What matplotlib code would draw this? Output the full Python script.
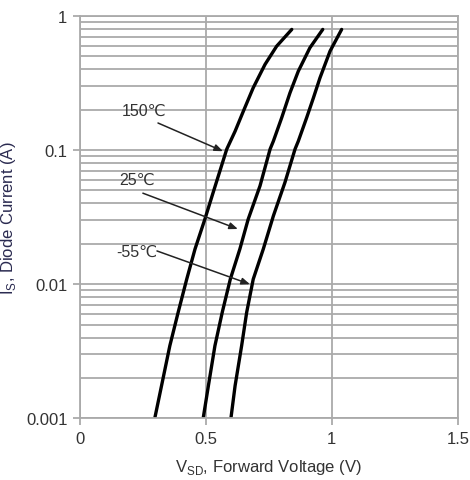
import matplotlib
matplotlib.use("Agg")
import matplotlib.pyplot as plt
from matplotlib.ticker import LogLocator, NullFormatter

plt.rcParams['font.family'] = ['Liberation Sans', 'DejaVu Sans']

# curves: forward voltage (V) vs diode current (A)
v_150 = [0.298, 0.324, 0.357, 0.390, 0.424, 0.457, 0.496, 0.529, 0.583,
         0.616, 0.649, 0.688, 0.735, 0.781, 0.841]
i_150 = [0.00102, 0.00175, 0.00348, 0.00617, 0.0109, 0.0183, 0.0305, 0.0483, 0.1016,
         0.138, 0.195, 0.291, 0.435, 0.594, 0.792]

v_25 = [0.490, 0.510, 0.536, 0.565, 0.597, 0.635, 0.668, 0.715, 0.755,
        0.768, 0.801, 0.834, 0.867, 0.913, 0.964]
i_25 = [0.00102, 0.00175, 0.00348, 0.00617, 0.0109, 0.0183, 0.0305, 0.0541, 0.1016,
        0.1165, 0.174, 0.267, 0.387, 0.578, 0.792]

v_m55 = [0.600, 0.616, 0.642, 0.662, 0.688, 0.728, 0.768, 0.814, 0.854,
         0.867, 0.900, 0.927, 0.953, 0.993, 1.039]
i_m55 = [0.00102, 0.00175, 0.00348, 0.00617, 0.0109, 0.0183, 0.0323, 0.0574, 0.1016,
         0.1165, 0.174, 0.245, 0.345, 0.546, 0.792]

labels = ["150\u2103", "25\u2103", "-55\u2103"]
label_x = [0.254, 0.226, 0.226]
label_y = [0.198, 0.0607, 0.0177]
arrow_from = [(0.310, 0.159), (0.250, 0.0477), (0.306, 0.0177)]
arrow_to = [(0.568, 0.098), (0.627, 0.0258), (0.675, 0.0100)]

grid_c = "#aaaaaa"

fig = plt.figure(figsize=(4.70, 4.81), dpi=100)
ax = fig.add_axes([0.170, 0.128, 0.804, 0.837])

ax.plot(v_150, i_150, color="black", lw=2.4, solid_capstyle="round", solid_joinstyle="round")
ax.plot(v_25, i_25, color="black", lw=2.4, solid_capstyle="round", solid_joinstyle="round")
ax.plot(v_m55, i_m55, color="black", lw=2.4, solid_capstyle="round", solid_joinstyle="round")

ax.set_yscale("log")
ax.set_xlim(0, 1.5)
ax.set_ylim(0.001, 1)
ax.set_xticks([0, 0.5, 1, 1.5])
ax.set_xticklabels(["0", "0.5", "1", "1.5"])
ax.set_yticks([0.001, 0.01, 0.1, 1])
ax.set_yticklabels(["0.001", "0.01", "0.1", "1"])
ax.yaxis.set_minor_locator(LogLocator(base=10, subs=range(2, 10)))
ax.yaxis.set_minor_formatter(NullFormatter())

ax.grid(True, which="major", color=grid_c, lw=1.3)
ax.grid(True, which="minor", axis="y", color=grid_c, lw=1.3)
ax.set_axisbelow(True)
ax.tick_params(which="minor", length=0)
ax.tick_params(which="major", length=5, color=grid_c, width=1.3,
               labelsize=12, labelcolor="#333333", pad=4)
for s in ax.spines.values():
    s.set_color(grid_c)
    s.set_linewidth(1.3)

ax.set_xlabel(r"V$_\mathregular{SD}$, Forward Voltage (V)", fontsize=12, color="#333333", labelpad=8)
ax.set_ylabel(r"I$_\mathregular{S}$, Diode Current (A)", fontsize=12, color="#2a2a50", labelpad=6)

for k in range(3):
    ax.text(label_x[k], label_y[k], labels[k], fontsize=11.5, color="#333333",
            ha="center", va="center")
    ax.annotate("", xy=arrow_to[k], xytext=arrow_from[k],
                arrowprops=dict(arrowstyle="-|>,head_length=0.5,head_width=0.2",
                                color="#222222", lw=1.1, shrinkA=0, shrinkB=0))

fig.savefig("out.png", dpi=100)
